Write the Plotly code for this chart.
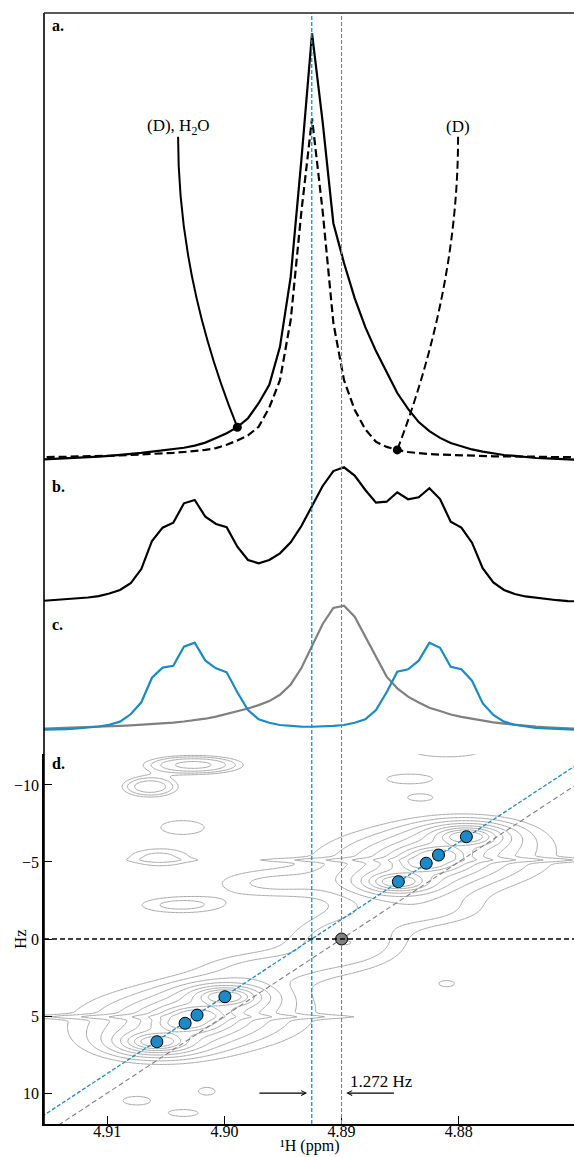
import numpy as np
import plotly.graph_objects as go

# ---------------------------------------------------------------- 1D traces
# chemical-shift sampling of the 1D spectra (ppm)
ppm = [4.91621, 4.91530, 4.91439, 4.91348, 4.91257, 4.91165, 4.91074, 4.90983,
       4.90892, 4.90801, 4.90710, 4.90619, 4.90528, 4.90437, 4.90346, 4.90254,
       4.90163, 4.90072, 4.89981, 4.89890, 4.89799, 4.89708, 4.89617, 4.89526,
       4.89434, 4.89343, 4.89252, 4.89161, 4.89070, 4.88979, 4.88888, 4.88797,
       4.88706, 4.88615, 4.88524, 4.88432, 4.88341, 4.88250, 4.88159, 4.88068,
       4.87977, 4.87886, 4.87795, 4.87704, 4.87613, 4.87521, 4.87430, 4.87339,
       4.87248, 4.87157, 4.87066, 4.86975]

# a. (D), H2O sample (solid) and (D) sample (dashed)
spec_d_h2o = [0.003, 0.004, 0.005, 0.006, 0.007, 0.009, 0.010, 0.012, 0.014, 0.016,
              0.019, 0.022, 0.025, 0.028, 0.031, 0.036, 0.043, 0.054, 0.065, 0.079,
              0.100, 0.135, 0.178, 0.267, 0.431, 0.704, 1.000, 0.792, 0.556, 0.463,
              0.381, 0.313, 0.257, 0.208, 0.159, 0.122, 0.091, 0.070, 0.054, 0.042,
              0.034, 0.027, 0.022, 0.018, 0.014, 0.012, 0.009, 0.007, 0.006, 0.005,
              0.004, 0.003]
spec_d = [0.009, 0.009, 0.010, 0.010, 0.011, 0.011, 0.012, 0.012, 0.013, 0.014,
          0.015, 0.016, 0.017, 0.019, 0.021, 0.023, 0.026, 0.030, 0.038, 0.048,
          0.060, 0.080, 0.125, 0.189, 0.330, 0.583, 0.801, 0.583, 0.323, 0.189,
          0.120, 0.074, 0.045, 0.033, 0.026, 0.021, 0.018, 0.016, 0.015, 0.014,
          0.013, 0.012, 0.012, 0.011, 0.011, 0.010, 0.010, 0.010, 0.009, 0.009,
          0.009, 0.009]
# b. measured multiplet
spec_total = [0.002, 0.007, 0.013, 0.018, 0.024, 0.031, 0.042, 0.061, 0.087, 0.137,
              0.243, 0.452, 0.551, 0.588, 0.732, 0.757, 0.632, 0.578, 0.554, 0.409,
              0.310, 0.286, 0.310, 0.360, 0.442, 0.563, 0.712, 0.861, 0.972, 1.000,
              0.938, 0.831, 0.737, 0.744, 0.814, 0.762, 0.777, 0.844, 0.764, 0.595,
              0.551, 0.439, 0.249, 0.144, 0.087, 0.057, 0.039, 0.028, 0.019, 0.011,
              0.005, 0.002]
# c. split components
spec_split = [0.000, 0.001, 0.004, 0.007, 0.011, 0.016, 0.026, 0.039, 0.062, 0.117,
              0.206, 0.389, 0.464, 0.478, 0.620, 0.650, 0.516, 0.459, 0.429, 0.281,
              0.149, 0.080, 0.054, 0.037, 0.030, 0.025, 0.024, 0.025, 0.030, 0.037,
              0.054, 0.080, 0.149, 0.281, 0.433, 0.452, 0.516, 0.650, 0.612, 0.471,
              0.452, 0.367, 0.199, 0.112, 0.062, 0.039, 0.026, 0.016, 0.011, 0.007,
              0.004, 0.001]
spec_single = [0.009, 0.011, 0.013, 0.016, 0.018, 0.021, 0.024, 0.027, 0.030, 0.034,
               0.038, 0.043, 0.049, 0.055, 0.063, 0.072, 0.084, 0.100, 0.119, 0.138,
               0.160, 0.185, 0.215, 0.262, 0.339, 0.461, 0.625, 0.789, 0.908, 0.925,
               0.843, 0.694, 0.536, 0.397, 0.310, 0.248, 0.205, 0.166, 0.141, 0.115,
               0.098, 0.083, 0.068, 0.057, 0.047, 0.038, 0.031, 0.025, 0.020, 0.015,
               0.011, 0.008]
dot_idx_h2o = 19      # marker on the solid trace
dot_idx_d = 34        # marker on the dashed trace

# ---------------------------------------------------------------- 2D panel
peak_ppm = [4.90577, 4.90336, 4.90234, 4.89996, 4.88515, 4.88277, 4.88172, 4.87934]
peak_hz = [6.67, 5.47, 4.94, 3.75, -3.72, -4.92, -5.45, -6.64]
peak_amp = [1.0, 0.8, 0.8, 1.0, 1.0, 0.8, 0.8, 1.0]
center_ppm = 4.89
center_hz = 0.0
spectrometer_mhz = 500.0
split_hz = 1.272

# weaker features (ppm, Hz, amplitude, ppm sigma, Hz sigma)
extra_ppm = [4.90635, 4.90266, 4.90365, 4.90564, 4.90379, 4.8965, 4.8894, 4.8842,
             4.8810, 4.9075, 4.9035, 4.9015, 4.8810, 4.8830, 4.8965, 4.8833,
             4.9028, 4.8822]
extra_hz = [-9.89, -11.30, -7.25, -5.30, -2.20, -3.6, 0.2, -10.4,
            -12.2, 10.5, 11.3, 9.9, 2.9, -1.8, 1.8, -9.2,
            5.2, -5.2]
extra_amp = [0.12, 0.15, 0.05, 0.065, 0.065, 0.05, 0.08, 0.05,
             0.06, 0.05, 0.05, 0.045, 0.045, 0.05, 0.05, 0.045,
             0.05, 0.05]
extra_sppm = [0.0016, 0.0026, 0.0024, 0.0023, 0.0031, 0.0040, 0.0038, 0.0025,
              0.0030, 0.0015, 0.0017, 0.0010, 0.0010, 0.0040, 0.0040, 0.0012,
              0.0080, 0.0080]
extra_shz = [0.45, 0.38, 0.58, 0.50, 0.46, 0.70, 1.30, 0.40,
             0.40, 0.35, 0.30, 0.35, 0.30, 0.80, 0.80, 0.25,
             1.60, 1.60]
# t1-noise ridges (ppm, Hz, amplitude)
ridge_ppm = [4.9040, 4.8811]
ridge_hz = [5.05, -5.13]
ridge_amp = [0.065, 0.065]

x_ticks = [4.91, 4.90, 4.89, 4.88]
y_ticks = [-10, -5, 0, 5, 10]

# ---------------------------------------------------------------- geometry
W, H = 574, 1157
ML, MR, MT, MB = 44, 0, 13, 33
PLOT_H = H - MT - MB
X_RANGE = [4.91541, 4.87015]
BLUE = "#1a8bc8"
GREY = "#808080"
FONT = "Liberation Serif"


def dom(top_px, bottom_px):
    return [(H - MB - bottom_px) / PLOT_H, (H - MB - top_px) / PLOT_H]


def ypaper(px):
    return (H - MB - px) / PLOT_H


fig = go.Figure()

# panel a
fig.add_trace(go.Scatter(x=ppm, y=spec_d_h2o, mode="lines", line=dict(color="black", width=2.2),
                         xaxis="x", yaxis="y", showlegend=False))
fig.add_trace(go.Scatter(x=ppm, y=spec_d, mode="lines",
                         line=dict(color="black", width=2.2, dash="8px,4px"),
                         xaxis="x", yaxis="y", showlegend=False))
fig.add_trace(go.Scatter(x=[ppm[dot_idx_h2o], ppm[dot_idx_d]],
                         y=[spec_d_h2o[dot_idx_h2o], spec_d[dot_idx_d]],
                         mode="markers", marker=dict(color="black", size=9),
                         xaxis="x", yaxis="y", showlegend=False))

# panel b
fig.add_trace(go.Scatter(x=ppm, y=spec_total, mode="lines", line=dict(color="black", width=2.2),
                         xaxis="x", yaxis="y2", showlegend=False))

# panel c
fig.add_trace(go.Scatter(x=ppm, y=spec_single, mode="lines", line=dict(color=GREY, width=2.2),
                         xaxis="x", yaxis="y3", showlegend=False))
fig.add_trace(go.Scatter(x=ppm, y=spec_split, mode="lines", line=dict(color=BLUE, width=2.2),
                         xaxis="x", yaxis="y3", showlegend=False))

# panel d: contour map built from the peak table
gp = np.linspace(4.8690, 4.9170, 420)
gh = np.linspace(-12.5, 12.5, 330)
P, Q = np.meshgrid(gp, gh)
field = np.zeros_like(P)
for p0, h0, a in zip(peak_ppm, peak_hz, peak_amp):
    field += a / (1 + ((P - p0) / 0.0019) ** 2 + ((Q - h0) / 0.45) ** 2) ** 1.5
for p0, h0, a, sp, sh in zip(extra_ppm, extra_hz, extra_amp, extra_sppm, extra_shz):
    field += a * np.exp(-0.5 * (((P - p0) / sp) ** 2 + ((Q - h0) / sh) ** 2))
for p0, h0, a in zip(ridge_ppm, ridge_hz, ridge_amp):
    field += a / (1 + ((P - p0) / 0.010) ** 2) * np.exp(-0.5 * ((Q - h0) / 0.10) ** 2)

fig.add_trace(go.Contour(x=gp, y=gh, z=np.log10(field + 1e-9), xaxis="x", yaxis="y4",
                         contours=dict(start=np.log10(0.04), end=np.log10(0.62),
                                       size=np.log10(1.47), coloring="lines"),
                         colorscale=[[0, "#a8a8a8"], [1, "#a8a8a8"]],
                         line=dict(width=1, smoothing=1.0), showscale=False,
                         hoverinfo="skip"))

# diagonals through the singlet and the doublet centre
blue_center = center_ppm + split_hz / spectrometer_mhz
edge = np.array([4.925, 4.860])
fig.add_trace(go.Scatter(x=edge, y=spectrometer_mhz * (edge - center_ppm), mode="lines",
                         line=dict(color=GREY, width=1.1, dash="5px,3px"),
                         xaxis="x", yaxis="y4", showlegend=False))
fig.add_trace(go.Scatter(x=edge, y=spectrometer_mhz * (edge - blue_center), mode="lines",
                         line=dict(color=BLUE, width=1.3, dash="4px,2px"),
                         xaxis="x", yaxis="y4", showlegend=False))

fig.add_trace(go.Scatter(x=peak_ppm, y=peak_hz, mode="markers",
                         marker=dict(color=BLUE, size=12, line=dict(color="black", width=1)),
                         xaxis="x", yaxis="y4", showlegend=False))
fig.add_trace(go.Scatter(x=[center_ppm], y=[center_hz], mode="markers",
                         marker=dict(color=GREY, size=12, line=dict(color="black", width=1)),
                         xaxis="x", yaxis="y4", showlegend=False))

# ---------------------------------------------------------------- shapes
shapes = [
    # vertical reference lines through all panels
    dict(type="line", xref="x", yref="paper", x0=blue_center, x1=blue_center, y0=0, y1=1,
         line=dict(color=BLUE, width=1.3, dash="4px,2px")),
    dict(type="line", xref="x", yref="paper", x0=center_ppm, x1=center_ppm, y0=0, y1=1,
         line=dict(color=GREY, width=1.1, dash="4px,2px")),
    # zero-Hz line in panel d
    dict(type="line", xref="paper", yref="y4", x0=0, x1=1, y0=0, y1=0,
         line=dict(color="black", width=1.3, dash="5px,3px")),
    # frame: left spine and top spine
    dict(type="line", xref="paper", yref="paper", x0=0, x1=0, y0=0, y1=1,
         line=dict(color="black", width=1.6)),
    dict(type="line", xref="paper", yref="paper", x0=0, x1=1, y0=1, y1=1,
         line=dict(color="#222222", width=1.6)),
]

# curved leader lines for the panel-a labels
lab_h2o = (4.90396, 0.781)
lab_d = (4.88005, 0.781)
start_h = 0.758
p_h2o = (ppm[dot_idx_h2o], spec_d_h2o[dot_idx_h2o])
p_d = (ppm[dot_idx_d], spec_d[dot_idx_d])
shapes.append(dict(type="path", xref="x", yref="y",
                   path=f"M {lab_h2o[0]},{start_h} Q {lab_h2o[0]},0.423 {p_h2o[0]},{p_h2o[1]}",
                   line=dict(color="black", width=2)))
shapes.append(dict(type="path", xref="x", yref="y",
                   path=f"M {lab_d[0]},{start_h} Q {lab_d[0]},0.400 {p_d[0]},{p_d[1]}",
                   line=dict(color="black", width=2, dash="8px,4px")))

# ---------------------------------------------------------------- annotations
tfont = dict(family=FONT, size=17, color="black")
ann = [
    dict(x=lab_h2o[0], y=lab_h2o[1], xref="x", yref="y", text="(D), H<sub>2</sub>O",
         showarrow=False, font=tfont, xanchor="center", yanchor="middle"),
    dict(x=lab_d[0], y=lab_d[1], xref="x", yref="y", text="(D)",
         showarrow=False, font=tfont, xanchor="center", yanchor="middle"),
    dict(x=center_ppm - 0.00055, y=9.22, xref="x", yref="y4", text="1.272 Hz",
         showarrow=False, font=tfont, xanchor="left", yanchor="middle"),
    # arrows marking the 1.272 Hz offset
    dict(x=blue_center + 0.0004, y=10, ax=blue_center + 0.0046, ay=10,
         xref="x", yref="y4", axref="x", ayref="y4", text="", showarrow=True,
         arrowhead=5, arrowsize=0.8, arrowwidth=1.2, arrowcolor="black", standoff=0),
    dict(x=center_ppm - 0.0004, y=10, ax=center_ppm - 0.0046, ay=10,
         xref="x", yref="y4", axref="x", ayref="y4", text="", showarrow=True,
         arrowhead=5, arrowsize=0.8, arrowwidth=1.2, arrowcolor="black", standoff=0),
    # axis titles
    dict(x=0.5, y=ypaper(1146), xref="paper", yref="paper", text="¹H (ppm)",
         showarrow=False, font=dict(family=FONT, size=16, color="black"),
         xanchor="center", yanchor="middle"),
    dict(x=(20 - ML) / (W - ML - MR), y=ypaper(939), xref="paper", yref="paper", text="Hz",
         showarrow=False, font=tfont, xanchor="center", yanchor="middle", textangle=-90),
]
for lab, ypx in zip(["a.", "b.", "c.", "d."], [26, 487, 625, 763]):
    ann.append(dict(x=(50 - ML) / (W - ML - MR), y=ypaper(ypx), xref="paper", yref="paper",
                    text=f"<b>{lab}</b>", showarrow=False,
                    font=dict(family=FONT, size=16, color="black"),
                    xanchor="left", yanchor="middle"))

hidden = dict(visible=False, showgrid=False, zeroline=False, anchor="x")
fig.update_layout(
    width=W, height=H,
    margin=dict(l=ML, r=MR, t=MT, b=MB),
    paper_bgcolor="white", plot_bgcolor="rgba(0,0,0,0)",
    xaxis=dict(range=X_RANGE, anchor="y4", showline=True, linecolor="black", linewidth=1.6,
               ticks="inside", ticklen=8, tickwidth=1.2, tickcolor="black",
               tickvals=x_ticks, ticktext=[f"{v:.2f}" for v in x_ticks],
               tickfont=dict(family=FONT, size=16, color="black"),
               ticklabelstandoff=-8,
               showgrid=False, zeroline=False),
    yaxis=dict(domain=dom(13, 475), range=[-(475 - 461) / 427.7, (461 - 13) / 427.7], **hidden),
    yaxis2=dict(domain=dom(460, 613), range=[-(613 - 601.7) / 134.4, (601.7 - 460) / 134.4], **hidden),
    yaxis3=dict(domain=dom(598, 745), range=[-(745 - 730) / 134.4, (730 - 598) / 134.4], **hidden),
    yaxis4=dict(domain=dom(754, 1124), range=[12.01, -12.01], anchor="x",
                showline=True, linecolor="black", linewidth=1.6,
                ticks="inside", ticklen=8, tickwidth=1.2, tickcolor="black",
                tickvals=y_ticks, tickfont=dict(family=FONT, size=16, color="black"),
                showgrid=False, zeroline=False),
    shapes=shapes,
    annotations=ann,
)

fig.write_html("out.html")
